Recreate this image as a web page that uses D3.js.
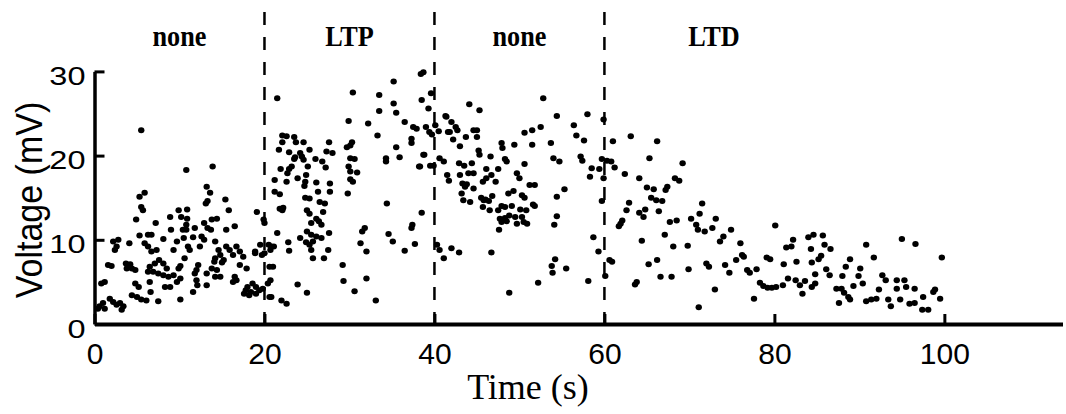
<!DOCTYPE html>
<html>
<head>
<meta charset="utf-8">
<script src="https://cdn.jsdelivr.net/npm/d3@7"></script>
<style>
  html, body { margin: 0; padding: 0; background: #fff; }
  svg { display: block; }
</style>
</head>
<body>
<svg id="chart" width="1066" height="414"></svg>
<script>
// ---------- data ----------
const xTicks = [0, 20, 40, 60, 80, 100];
const yTicks = [0, 10, 20, 30];
const boundaries = [20, 40, 60];
const phaseLabels = ["none", "LTP", "none", "LTD"];
const phaseLabelT = [10, 30, 50, 72.9];

// phase 1: none (0-20 s)  [time, voltage]
const nonePre = [
[10.8,18.3],[13.9,18.7],[13.2,16.3],[13.6,15.6],[13.1,14.3],[13.3,14.6],[15.4,14.8],[15.8,13.5],
[5.3,15.1],[5.9,15.6],[5.7,13.5],[5.5,13.9],[4.9,12.4],[7.2,12.0],[8.9,12.7],[9.9,13.5],
[10.9,13.6],[10.2,12.7],[10.9,12.5],[10.8,11.8],[10.8,11.2],[10.4,11.2],[11.8,11.4],[9.0,11.2],
[12.9,12.0],[13.8,12.4],[14.4,12.5],[13.3,11.4],[13.7,11.2],[15.5,11.2],[16.5,11.6],[6.3,10.6],
[6.7,10.6],[5.3,10.5],[8.1,10.1],[9.7,9.8],[10.5,10.2],[11.6,10.3],[12.6,10.4],[12.9,10.0],
[14.2,9.8],[2.2,9.8],[2.8,10.0],[4.1,9.6],[2.6,9.2],[2.4,8.8],[5.9,9.6],[6.3,9.2],[6.7,8.6],
[7.3,8.8],[9.3,8.8],[11.0,9.2],[11.2,8.8],[12.4,9.2],[15.5,9.2],[15.9,8.8],[16.7,9.2],[17.1,8.6],
[17.5,8.0],[16.3,8.2],[14.6,8.8],[14.8,8.2],[15.2,7.6],[15.0,7.3],[14.2,7.8],[14.1,7.4],[10.6,7.8],
[1.6,7.0],[2.0,6.9],[3.7,7.2],[4.2,7.1],[3.8,6.6],[4.4,6.6],[4.8,6.4],[6.5,6.8],[7.1,7.2],
[7.6,7.6],[8.1,7.2],[8.5,6.6],[6.3,6.2],[6.9,6.2],[7.5,6.0],[8.1,5.8],[8.7,5.6],[9.3,5.8],
[9.9,6.6],[10.1,6.9],[12.2,7.0],[12.0,6.4],[11.8,6.0],[13.2,6.0],[13.8,6.6],[14.4,6.4],[14.2,5.6],
[14.8,5.6],[17.1,7.0],[17.9,6.6],[16.5,5.6],[16.7,5.2],[16.3,5.0],[12.0,5.2],[12.1,4.6],[13.2,4.6],
[10.1,5.4],[9.7,5.0],[8.3,4.4],[8.9,4.4],[6.5,5.0],[6.6,3.8],[4.8,4.8],[5.2,4.4],[0.8,4.8],
[1.2,5.0],[4.4,3.4],[5.0,3.2],[5.5,2.9],[6.1,2.8],[7.5,2.7],[10.1,2.9],[11.6,3.8],[1.8,3.0],
[2.2,2.6],[2.6,2.3],[3.0,2.5],[3.4,2.1],[3.2,1.7],[1.0,2.5],[0.6,2.1],[1.2,1.8],[0.4,1.8],
[18.0,4.4],[18.6,4.8],[19.0,4.4],[19.4,4.0],[19.8,4.2],[18.4,3.8],[19.0,3.6],[18.2,3.4],
[17.6,3.6],[17.8,4.0],[19.1,13.3],[19.9,12.4],[19.7,8.2],[18.9,8.4],[18.9,8.6],[19.5,9.4],[5.5,23.0]
];

// phase 2: LTP (20-40 s)
const ltp = [
[20.4,4.8],[20.6,3.2],[20.8,9.2],[20.0,8.4],
[38.4,29.7],[38.7,29.9],[35.2,28.8],[30.4,27.5],[21.5,26.8],[33.5,27.2],[35.2,26.2],[38.5,26.6],
[39.6,27.4],[33.5,25.3],[35.5,25.1],[39.3,25.6],[29.9,24.1],[32.2,23.8],[36.5,24.0],[37.5,23.4],
[37.9,23.2],[39.0,23.4],[39.4,22.8],[39.7,22.5],[33.3,22.4],[37.3,22.0],[37.3,21.5],[22.1,22.4],
[22.6,22.3],[22.1,21.6],[23.5,22.2],[23.7,21.6],[24.6,21.6],[27.6,21.6],[30.3,21.6],[30.1,21.2],
[29.7,21.0],[21.7,20.7],[22.9,20.4],[23.6,19.8],[24.2,20.3],[24.4,19.9],[24.6,19.5],[25.3,20.7],
[27.3,20.5],[28.0,20.3],[35.5,21.0],[34.3,19.7],[34.3,19.3],[35.9,19.8],[38.7,20.1],[30.1,19.7],
[29.9,18.7],[30.1,18.1],[30.6,19.6],[26.0,19.6],[26.8,19.3],[27.2,18.6],[23.2,18.7],[22.9,18.4],
[23.5,19.6],[25.1,18.7],[21.9,18.4],[22.7,17.9],[23.9,17.3],[24.9,17.7],[24.8,16.9],[24.7,16.4],
[38.2,18.7],[39.5,18.8],[39.9,18.8],[30.9,18.0],[30.1,17.2],[30.4,16.9],[21.2,17.1],[22.6,16.9],
[26.1,16.8],[27.7,16.7],[21.2,15.7],[21.8,15.4],[26.3,15.7],[27.7,15.7],[29.8,15.5],[24.8,15.0],
[25.3,14.9],[26.5,14.5],[27.1,14.3],[21.8,13.7],[22.1,13.5],[22.2,13.8],[34.4,14.3],[25.0,13.5],
[25.3,13.1],[26.9,13.3],[38.5,13.2],[26.1,12.5],[26.4,12.2],[26.7,11.8],[25.5,12.0],[20.0,12.0],
[37.4,11.8],[37.3,11.4],[31.8,11.4],[31.5,11.0],[21.5,10.8],[25.0,11.0],[25.5,10.6],[26.1,10.4],
[26.7,10.2],[27.6,10.8],[34.6,10.7],[35.1,9.8],[37.7,9.5],[24.2,10.2],[24.9,9.7],[25.3,9.4],
[25.7,9.8],[22.8,9.7],[22.9,8.7],[31.3,9.6],[32.0,8.6],[36.5,8.7],[25.5,8.8],[25.7,7.8],[27.0,7.8],
[27.5,8.8],[20.7,8.8],[21.1,9.2],[20.5,9.4],[21.0,6.8],[20.6,6.8],[29.2,7.0],[20.7,5.2],[29.3,5.1],
[32.0,5.4],[23.9,4.7],[20.8,3.2],[25.0,3.7],[30.6,3.9],[22.0,2.8],[22.6,2.4],[33.1,2.8],
[38.8,20.1],[38.3,18.7]
];

// phase 3: none (40-60 s)
const nonePost = [
[40.1,23.6],[40.5,22.9],[41.4,24.6],[41.6,22.8],[52.8,26.8],[44.1,26.1],[45.3,25.4],[41.3,24.7],
[42.0,24.0],[54.4,24.7],[58.0,24.9],[59.9,24.3],[42.5,23.4],[42.7,23.0],[41.8,22.8],[42.2,21.9],
[43.7,22.2],[44.6,23.0],[45.0,23.0],[45.0,22.2],[50.6,22.7],[51.5,23.0],[52.5,23.4],[56.4,23.6],
[56.7,22.4],[57.6,21.8],[43.0,21.1],[47.9,21.5],[48.0,20.9],[49.4,21.3],[51.5,21.3],[53.7,21.5],
[45.2,20.6],[45.3,20.1],[46.6,19.9],[40.6,19.7],[41.1,19.3],[48.3,19.6],[48.5,19.3],[54.0,19.7],
[54.7,19.3],[57.2,19.9],[57.4,19.4],[59.7,19.6],[42.9,19.1],[43.5,18.8],[44.4,19.1],[50.6,19.0],
[41.5,17.7],[41.7,17.0],[43.0,17.7],[44.0,17.9],[44.6,17.9],[46.1,18.4],[46.7,17.7],[47.5,18.4],
[49.7,17.9],[50.0,17.3],[59.9,17.3],[45.7,16.9],[46.1,17.3],[47.2,16.9],[43.3,16.7],[43.8,16.6],
[43.6,16.3],[44.6,16.1],[51.2,16.5],[51.8,16.5],[55.3,16.0],[43.2,15.5],[48.7,15.5],[49.3,15.8],
[45.5,15.0],[46.0,14.8],[46.8,15.2],[46.4,14.6],[45.8,14.7],[50.3,15.3],[50.6,15.0],[54.4,15.1],
[43.4,14.7],[44.2,14.5],[51.6,14.2],[51.8,14.0],[47.9,14.0],[48.3,13.9],[49.1,14.0],[45.7,13.9],
[46.5,13.5],[47.5,13.5],[50.1,13.6],[50.8,13.5],[48.8,12.9],[48.3,12.6],[47.7,12.5],[47.9,12.1],
[48.5,12.2],[49.5,12.7],[50.3,12.7],[49.7,11.9],[50.5,12.1],[50.9,11.9],[54.4,12.8],[54.1,11.8],
[47.6,11.2],[59.7,14.6],[58.7,10.3],[40.3,9.4],[40.6,8.8],[41.1,7.8],[42.0,9.0],[42.9,8.5],
[46.7,8.5],[59.3,8.6],[54.2,7.7],[53.8,6.9],[53.9,6.1],[55.5,6.6],[52.2,4.9],[58.1,5.1],[48.8,3.7],
[58.5,18.5],[59.4,18.4],[58.3,17.5]
];

// phase 4: LTD (60-100 s)
const ltd = [
[60.3,19.4],[60.8,19.3],[61.0,21.7],[63.1,22.3],[66.2,21.7],[65.3,19.7],[61.2,18.6],[62.4,17.8],
[64.1,17.3],[69.2,19.1],[68.3,17.3],[68.8,17.0],[65.0,16.2],[65.8,16.0],[67.4,16.3],[67.2,15.9],
[65.5,15.0],[66.1,14.7],[66.8,14.6],[62.9,14.4],[71.5,14.3],[62.6,13.5],[64.1,13.2],[64.6,12.7],
[64.8,13.6],[66.4,13.4],[71.2,13.1],[70.2,12.5],[73.1,12.5],[67.7,12.1],[68.5,12.3],[62.1,12.3],
[61.7,11.6],[61.9,11.9],[70.8,11.8],[71.0,11.2],[71.8,11.0],[72.7,11.4],[74.9,11.2],[74.0,10.4],
[73.6,9.8],[67.1,10.6],[64.4,9.9],[68.1,9.2],[69.8,9.3],[76.0,9.6],[76.2,8.2],[76.4,8.0],[79.1,7.9],
[79.5,7.7],[81.4,9.1],[75.5,7.6],[65.2,7.1],[66.2,7.6],[72.0,7.2],[72.3,6.8],[74.2,7.0],[69.9,6.5],
[74.7,6.1],[76.8,6.4],[77.1,6.1],[77.9,6.5],[81.1,7.1],[66.6,5.6],[67.9,5.6],[60.6,7.6],[60.9,7.4],
[60.1,5.7],[63.8,5.0],[63.6,4.7],[78.3,4.9],[78.7,4.5],[79.2,4.3],[79.7,4.3],[80.2,4.4],[81.0,4.6],
[81.6,5.4],[73.0,4.1],[77.6,3.0],[71.1,2.0],[80.1,11.7],[82.0,9.2],[82.2,10.0],[84.0,10.3],
[84.6,10.6],[85.7,10.5],[85.9,9.4],[86.6,8.9],[84.3,8.9],[85.5,8.1],[85.2,7.7],[84.4,7.3],[82.6,7.4],
[86.1,6.5],[86.5,5.8],[84.8,5.9],[82.5,5.2],[83.0,4.6],[83.6,5.1],[84.8,4.8],[84.4,4.4],[83.3,3.6],
[88.0,5.7],[88.9,7.7],[88.4,6.8],[90.1,6.6],[89.9,5.7],[90.8,9.4],[91.7,7.9],[90.4,4.8],[89.3,4.5],
[87.3,4.2],[87.9,4.2],[88.2,3.7],[88.7,3.2],[88.9,2.9],[87.6,2.5],[90.8,2.7],[91.4,2.9],[92.0,3.0],
[92.3,4.1],[92.7,5.8],[93.1,5.2],[93.4,2.9],[93.7,2.1],[94.4,5.2],[94.4,4.2],[95.3,5.2],[95.5,4.4],
[94.8,2.9],[96.5,4.2],[95.9,2.4],[96.5,2.5],[97.5,3.2],[97.4,1.7],[98.1,1.7],[98.7,3.8],[98.9,4.1],
[99.5,3.0],[95.0,10.1],[96.6,9.5],[99.7,7.9]
];

// ---------- chart ----------
const svg = d3.select("#chart");
const x = d3.scaleLinear().domain([0, 113.9]).range([94.5, 1062.5]);
const y = d3.scaleLinear().domain([0, 30]).range([324, 71.4]);

// phase boundaries (dashed)
svg.append("g").selectAll("line").data(boundaries).join("line")
  .attr("x1", d => x(d)).attr("x2", d => x(d))
  .attr("y1", 12).attr("y2", y(0))
  .attr("stroke", "#000").attr("stroke-width", 2.5)
  .attr("stroke-dasharray", "13,12");

// phase labels
svg.append("g").selectAll("text").data(phaseLabels).join("text")
  .attr("transform", (d, i) => `translate(${x(phaseLabelT[i])},46) scale(1.05,1.2)`)
  .attr("text-anchor", "middle")
  .style("font-family", "'Liberation Serif', 'Times New Roman', serif")
  .style("font-weight", "bold")
  .style("font-size", "25px")
  .text(d => d);

// points
const allPoints = [].concat(nonePre, ltp, nonePost, ltd);
svg.append("g").selectAll("ellipse").data(allPoints).join("ellipse")
  .attr("cx", d => x(d[0])).attr("cy", d => y(d[1]))
  .attr("rx", 3.2).attr("ry", 3.0).attr("fill", "#000");

// x axis
const gx = svg.append("g").attr("transform", `translate(0,${y(0)})`)
  .call(d3.axisBottom(x).tickValues(xTicks).tickSizeInner(-10).tickSizeOuter(0).tickPadding(19).tickFormat(d3.format("d")));
gx.select(".domain").attr("stroke-width", 4);
gx.selectAll(".tick line").attr("stroke-width", 3);
gx.selectAll(".tick text")
  .style("font-family", "'Liberation Sans', Arial, sans-serif")
  .style("font-size", "30px").attr("fill", "#000");

// y axis
const gy = svg.append("g").attr("transform", `translate(${x(0)},0)`)
  .call(d3.axisLeft(y).tickValues(yTicks).tickSizeInner(-10).tickSizeOuter(0).tickFormat(d3.format("d")));
gy.select(".domain").attr("stroke-width", 3.5);
gy.selectAll(".tick line").attr("stroke-width", 3);
gy.selectAll(".tick text")
  .attr("x", 0).attr("dy", "13px")
  .attr("transform", "translate(-9,0) scale(1.3,1)")
  .style("font-family", "'Liberation Sans', Arial, sans-serif")
  .style("font-size", "25px").attr("fill", "#000");

// axis titles
svg.append("text")
  .attr("x", 528).attr("y", 399)
  .attr("text-anchor", "middle")
  .style("font-family", "'Liberation Serif', 'Times New Roman', serif")
  .style("font-size", "36px")
  .text("Time (s)");

svg.append("text")
  .attr("transform", "translate(42,200) rotate(-90) scale(1,1.1)")
  .attr("text-anchor", "middle")
  .style("font-family", "'Liberation Sans', Arial, sans-serif")
  .style("font-size", "34px")
  .text("Voltage (mV)");
</script>
</body>
</html>
